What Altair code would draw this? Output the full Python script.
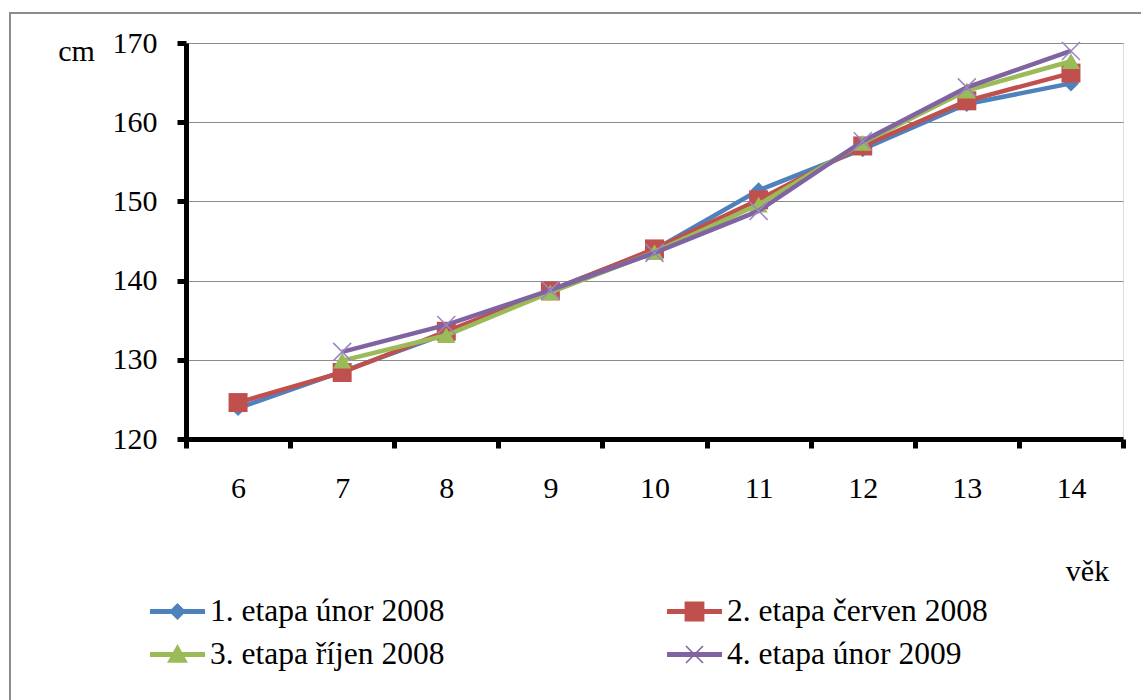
import altair as alt
import pandas as pd

ages = [6, 7, 8, 9, 10, 11, 12, 13, 14]
series_names = [
    "1. etapa únor 2008",
    "2. etapa červen 2008",
    "3. etapa říjen 2008",
    "4. etapa únor 2009",
]
s1 = [123.9, 128.5, 133.3, 138.8, 143.9, 151.4, 156.6, 162.3, 164.9]
s2 = [124.6, 128.4, 133.6, 138.7, 144.0, 150.2, 157.0, 162.7, 166.2]
s3 = [None, 129.9, 133.1, 138.5, 143.6, 149.6, 157.4, 164.0, 167.7]
s4 = [None, 131.0, 134.4, 138.8, 143.5, 148.8, 157.6, 164.4, 169.0]
y_ticks = [120, 130, 140, 150, 160, 170]

colors = ["#4F81BD", "#C0504D", "#9BBB59", "#8064A2"]

rows = []
for name, vals in zip(series_names, [s1, s2, s3, s4]):
    for a, v in zip(ages, vals):
        if v is not None:
            rows.append({"age": a, "series": name, "value": v})
df = pd.DataFrame(rows)

FONT = "Times New Roman, Liberation Serif, serif"
W, H = 937, 396
PL, PT = 186, 43

xenc = alt.X(
    "age:O",
    scale=alt.Scale(paddingInner=0, paddingOuter=0),
    axis=alt.Axis(
        title="věk", titleAngle=0, titleX=901, titleY=141, titleBaseline="alphabetic",
        titleAlign="center", titleFont=FONT, titleFontSize=30, titleFontWeight="normal",
        titleColor="black",
        labelAngle=0, labelFont=FONT, labelFontSize=30, labelColor="black",
        labelBaseline="alphabetic", labelPadding=49,
        tickBand="extent", tickSize=9, tickWidth=5, tickColor="black",
        domainColor="black", domainWidth=5, grid=False,
    ),
)
yenc = alt.Y(
    "value:Q",
    scale=alt.Scale(domain=[120, 170], nice=False, zero=False),
    axis=alt.Axis(
        values=y_ticks, title="cm", titleAngle=0, titleX=-110, titleY=17,
        titleBaseline="alphabetic", titleAlign="center", titleFont=FONT,
        titleFontSize=30, titleFontWeight="normal", titleColor="black",
        labelFont=FONT, labelFontSize=30, labelColor="black", labelPadding=20,
        labelBaseline="middle",
        tickSize=9, tickWidth=5, tickColor="black",
        domainColor="black", domainWidth=5,
        grid=True, gridColor="#8c8c8c", gridWidth=1.2,
    ),
)

marker_shapes = ["diamond", "square", "triangle-up", "M-1,-1L1,1M-1,1L1,-1"]
marker_sizes = [256, 361, 330, 324]

line_path = "M-1,-0.09H1V0.09H-1Z"
legend_paths = [
    line_path + "M0,-0.31L0.31,0L0,0.31L-0.31,0Z",
    line_path + "M-0.36,-0.36H0.36V0.36H-0.36Z",
    line_path + "M0,-0.38L0.38,0.3H-0.38Z",
    line_path + "M-0.29,-0.33L0.33,0.29L0.29,0.33L-0.33,-0.29Z"
    + "M0.33,-0.29L-0.29,0.33L-0.33,0.29L0.29,-0.33Z",
]

base = alt.Chart(df)
layers = []
for i, name in enumerate(series_names):
    sub = base.transform_filter(alt.datum.series == name)
    layers.append(
        sub.mark_line(strokeWidth=4.5, color=colors[i]).encode(x=xenc, y=yenc)
    )
    if i < 3:
        pts = sub.mark_point(
            shape=marker_shapes[i], size=marker_sizes[i], filled=True,
            color=colors[i], opacity=1,
        )
    else:
        pts = sub.mark_point(
            shape=marker_shapes[i], size=marker_sizes[i], filled=False,
            color="#9a86c4", strokeWidth=1.5, opacity=1,
        )
    layers.append(pts.encode(x=xenc, y=yenc))

legend = alt.Legend(
    title=None, orient="none", legendX=-36, legendY=541, columns=2,
    direction="horizontal",
    columnPadding=222, rowPadding=-10, symbolSize=3025, symbolOpacity=1,
    symbolStrokeWidth=0, labelFont=FONT, labelFontSize=31.5, labelColor="black",
    labelOffset=5, labelLimit=600, padding=0,
)
legend_layer = base.mark_point(filled=True, opacity=0).encode(
    x=xenc, y=yenc,
    color=alt.Color("series:N", scale=alt.Scale(domain=series_names, range=colors), legend=legend),
    shape=alt.Shape("series:N", scale=alt.Scale(domain=series_names, range=legend_paths), legend=legend),
)
layers.append(legend_layer)

frame = alt.Chart(pd.DataFrame({"f": [0]})).mark_rect(
    fill="transparent", stroke="#8c8c8c", strokeWidth=2
).encode(
    x=alt.value(10 - PL), x2=alt.value(1141 - PL + 20),
    y=alt.value(13 - PT), y2=alt.value(700 - PT + 20),
)

chart = alt.layer(frame, *layers).properties(
    width=W, height=H,
    autosize=alt.AutoSizeParams(type="none"),
    padding={"left": PL, "top": PT, "right": 1141 - PL - W, "bottom": 700 - PT - H},
).configure_view(
    stroke="#404040", strokeWidth=1.5
).configure(background="white")

chart.save("out.html", embed_options={"renderer": "svg", "actions": False})
